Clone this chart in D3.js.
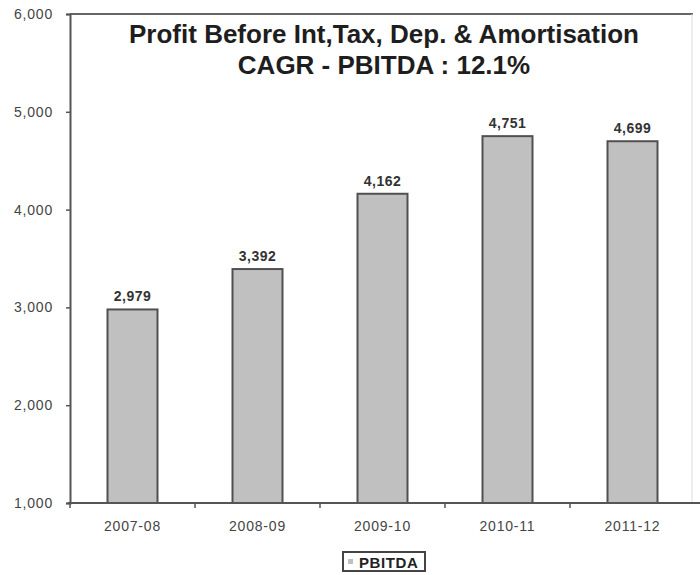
<!DOCTYPE html>
<html>
<head>
<meta charset="utf-8">
<script src="https://cdn.jsdelivr.net/npm/d3@7"></script>
<style>
  body { margin: 0; background: #fff; }
  svg { display: block; font-family: "Liberation Sans", Arial, sans-serif; }
</style>
</head>
<body>
<svg id="chart" width="700" height="575"></svg>
<script>
// PBITDA by financial year
const years = ["2007-08", "2008-09", "2009-10", "2010-11", "2011-12"];
const pbitda = [2979, 3392, 4162, 4751, 4699];
const yTicks = [1000, 2000, 3000, 4000, 5000, 6000];
const titleLines = ["Profit Before Int,Tax, Dep. & Amortisation", "CAGR - PBITDA : 12.1%"];
const seriesName = "PBITDA";

const svg = d3.select("#chart");
const plotLeft = 70, plotRight = 695, plotTop = 14, plotBottom = 503;

const x = d3.scaleBand().domain(years).range([plotLeft, plotRight]).paddingInner(0.6).paddingOuter(0.3);
const xb = d3.scaleBand().domain(years).range([plotLeft, plotRight]);
const y = d3.scaleLinear().domain([1000, 6000]).range([plotBottom, plotTop]);

// frame: top and faint right edge
svg.append("line").attr("x1", plotLeft).attr("x2", plotRight - 2).attr("y1", plotTop).attr("y2", plotTop)
  .attr("stroke", "#666").attr("stroke-width", 2);
svg.append("line").attr("x1", plotRight - 3).attr("x2", plotRight - 3).attr("y1", plotTop).attr("y2", plotBottom)
  .attr("stroke", "#ddd").attr("stroke-width", 1);

// bars
svg.selectAll("rect.bar").data(pbitda).join("rect")
  .attr("class", "bar")
  .attr("x", (d, i) => x(years[i]))
  .attr("width", x.bandwidth())
  .attr("y", d => y(d))
  .attr("height", d => y(1000) - y(d))
  .attr("fill", "#c0c0c0")
  .attr("stroke", "#505050")
  .attr("stroke-width", 2);

// value labels
svg.selectAll("text.val").data(pbitda).join("text")
  .attr("class", "val")
  .attr("x", (d, i) => x(years[i]) + x.bandwidth() / 2)
  .attr("y", d => y(d) - 8)
  .attr("text-anchor", "middle")
  .attr("font-size", 14).attr("font-weight", "bold").attr("fill", "#333")
  .attr("letter-spacing", 0.5)
  .text(d => d3.format(",")(d));

// y axis
const yAxis = d3.axisLeft(y).tickValues(yTicks).tickFormat(d3.format(",")).tickSize(4).tickPadding(13);
const gy = svg.append("g").attr("transform", `translate(${plotLeft},0)`).call(yAxis);
gy.select(".domain").attr("stroke", "#555").attr("stroke-width", 2);
gy.selectAll(".tick line").attr("stroke", "#555").attr("stroke-width", 1.5);
gy.selectAll(".tick text").attr("font-size", 14).attr("fill", "#444")
  .attr("letter-spacing", 0.8)
  .attr("font-family", "'Liberation Sans', Arial, sans-serif");

// x axis with boundary ticks
svg.append("line").attr("x1", plotLeft - 2).attr("x2", plotRight + 5).attr("y1", plotBottom).attr("y2", plotBottom)
  .attr("stroke", "#555").attr("stroke-width", 2);
const bounds = years.map(c => xb(c));
svg.selectAll("line.xt").data(bounds).join("line")
  .attr("class", "xt")
  .attr("x1", d => d).attr("x2", d => d)
  .attr("y1", plotBottom).attr("y2", plotBottom + 5)
  .attr("stroke", "#555").attr("stroke-width", 1.5);
svg.selectAll("text.xl").data(years).join("text")
  .attr("class", "xl")
  .attr("x", d => xb(d) + xb.bandwidth() / 2)
  .attr("y", plotBottom + 28)
  .attr("text-anchor", "middle")
  .attr("font-size", 14).attr("fill", "#444")
  .attr("letter-spacing", 0.8)
  .text(d => d);

// title
svg.selectAll("text.title").data(titleLines).join("text")
  .attr("class", "title")
  .attr("x", 384)
  .attr("y", (d, i) => 43 + i * 31)
  .attr("text-anchor", "middle")
  .attr("font-size", 26).attr("font-weight", "bold").attr("fill", "#1e1e1e")
  .text(d => d);

// legend
const lg = svg.append("g").attr("transform", "translate(343,552)");
lg.append("rect").attr("width", 82).attr("height", 19)
  .attr("fill", "#fff").attr("stroke", "#444").attr("stroke-width", 2);
lg.append("rect").attr("x", 5).attr("y", 7).attr("width", 5).attr("height", 5).attr("fill", "#c0c0c0");
lg.append("text").attr("x", 16).attr("y", 16)
  .attr("font-size", 15).attr("font-weight", "bold").attr("fill", "#222")
  .attr("letter-spacing", 0.6)
  .text(seriesName);
</script>
</body>
</html>
